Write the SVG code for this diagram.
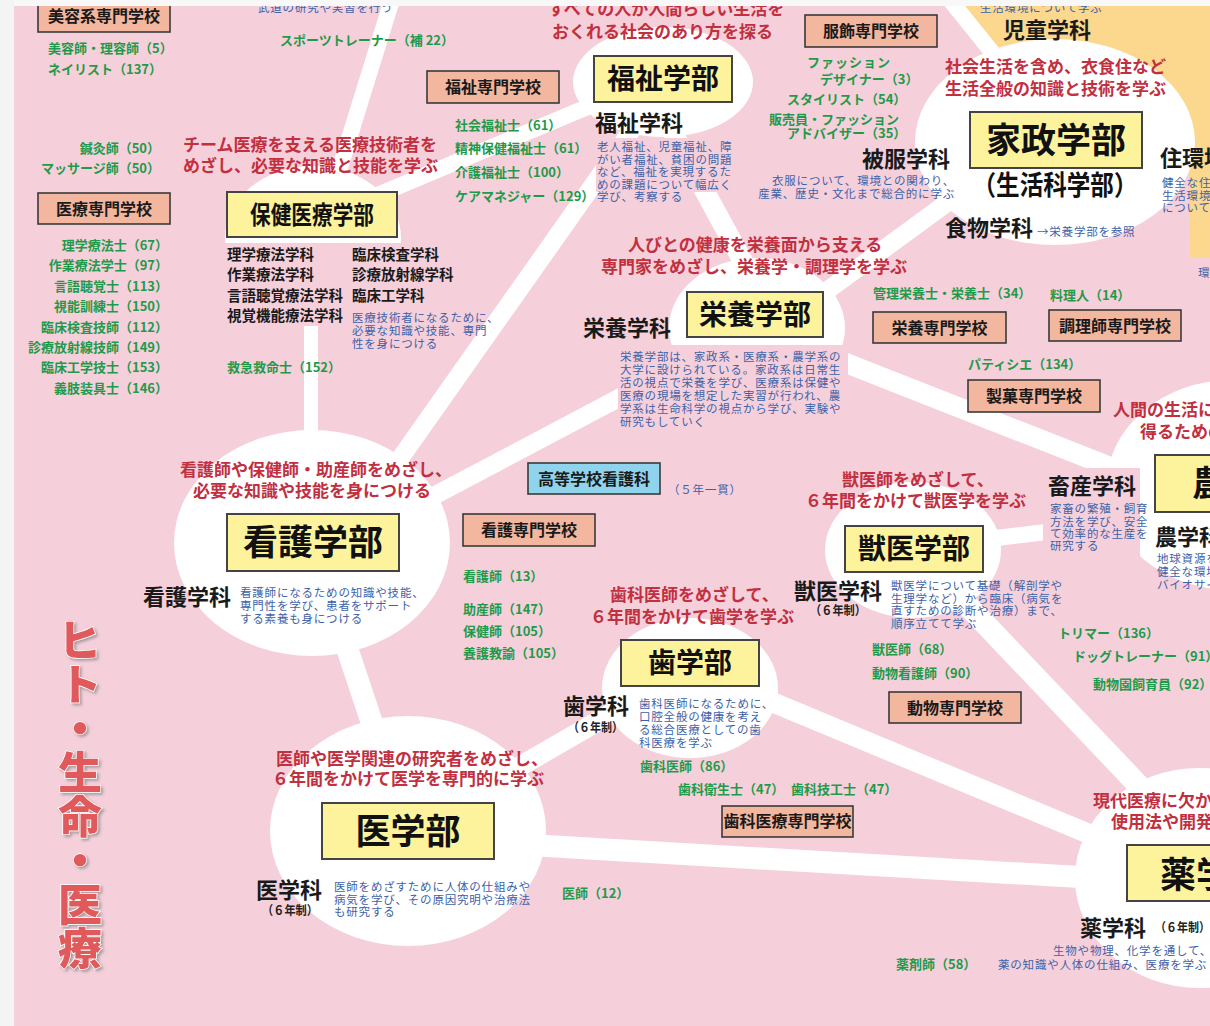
<svg xmlns="http://www.w3.org/2000/svg" width="1210" height="1026" viewBox="0 0 1210 1026">
<defs>
<style>
text{font-family:"Noto Sans CJK JP","Noto Sans",sans-serif}
.r{fill:#c22f3f;font-size:17px;font-weight:700}
.g{fill:#1f9a4a;font-size:13px;font-weight:700}
.b{fill:#3d62a8;font-size:11.5px;letter-spacing:0.8px}
.k{fill:#1a1a1a;font-size:22px;font-weight:700}
.y6{fill:#222;font-size:12.5px;font-weight:700}
.sb{fill:#f3b69e;stroke:#3a3a3a;stroke-width:1.6}
.yb{fill:#fdf39d;stroke:#444;stroke-width:2}
.lb{fill:#1a1a1a;font-size:16px;font-weight:700;text-anchor:middle}
.fac{fill:#111;font-weight:700;text-anchor:middle}
.ln{stroke:#fff;fill:none}
.wc{fill:#fff}
.pk{fill:#f5d0db}
.vt{fill:#e05a5c;font-size:44px;font-weight:900;stroke:#fff;stroke-width:1.5;paint-order:stroke;writing-mode:vertical-rl}
</style>
<filter id="sh" x="-20%" y="-20%" width="150%" height="150%">
<feDropShadow dx="2" dy="2" stdDeviation="1.5" flood-color="#777" flood-opacity="0.6"/>
</filter>
</defs>

<rect x="0" y="0" width="1210" height="1026" fill="#f4f4f4"/>
<rect x="14" y="6" width="1196" height="1020" class="pk"/>
<path d="M963,6 L1210,6 L1210,258 L1190,258 L1188,110 L1000,60 Z" fill="#fcd78e"/>

<g id="connectors">
<line class="ln" x1="392" y1="0" x2="330" y2="200" stroke-width="16"/>
<line class="ln" x1="330" y1="215" x2="640" y2="85" stroke-width="16"/>
<line class="ln" x1="311" y1="240" x2="311" y2="480" stroke-width="14"/>
<line class="ln" x1="653" y1="100" x2="392" y2="470" stroke-width="18"/>
<line class="ln" x1="655" y1="100" x2="775" y2="320" stroke-width="20"/>
<line class="ln" x1="320" y1="556" x2="757" y2="325" stroke-width="18"/>
<line class="ln" x1="1000" y1="164" x2="757" y2="342" stroke-width="18"/>
<line class="ln" x1="950" y1="0" x2="1055" y2="130" stroke-width="16"/>
<line class="ln" x1="757" y1="328" x2="1230" y2="514" stroke-width="20"/>
<line class="ln" x1="913" y1="548" x2="1230" y2="510" stroke-width="16"/>
<line class="ln" x1="913" y1="548" x2="1200" y2="850" stroke-width="22"/>
<line class="ln" x1="312" y1="543" x2="408" y2="831" stroke-width="22"/>
<line class="ln" x1="408" y1="831" x2="690" y2="668" stroke-width="20"/>
<line class="ln" x1="408" y1="838" x2="1200" y2="884" stroke-width="22"/>
<line class="ln" x1="690" y1="668" x2="1200" y2="880" stroke-width="20"/>
</g>

<g id="circles">
<ellipse class="wc" cx="313" cy="238" rx="88" ry="72"/>
<ellipse class="wc" cx="663" cy="82" rx="90" ry="55"/>
<ellipse class="wc" cx="1055" cy="142" rx="140" ry="103"/>
<ellipse class="wc" cx="757" cy="328" rx="88" ry="70"/>
<ellipse class="wc" cx="312" cy="543" rx="138" ry="113"/>
<ellipse class="wc" cx="408" cy="831" rx="138" ry="115"/>
<ellipse class="wc" cx="690" cy="688" rx="88" ry="70"/>
<ellipse class="wc" cx="913" cy="550" rx="88" ry="68"/>
<ellipse class="wc" cx="1232" cy="485" rx="125" ry="105"/>
<ellipse class="wc" cx="1200" cy="878" rx="125" ry="110"/>
</g>

<g id="text-backs">
<rect class="pk" x="222" y="243" width="128" height="83"/>
<rect class="pk" x="350" y="243" width="115" height="60"/>
<rect class="pk" x="596" y="138" width="140" height="54"/>
<rect class="pk" x="618" y="345" width="230" height="85"/>
<rect class="pk" x="1043" y="468" width="97" height="88"/>
</g>

<g id="n-top">
<text class="b" x="258" y="12">武道の研究や実習を行う</text>
<text class="g" x="280" y="44.5">スポーツトレーナー（補 22）</text>
<text class="r" x="548" y="15">すべての人が人間らしい生活を</text>
<text class="r" x="552" y="37.5">おくれる社会のあり方を探る</text>
<text class="b" x="980" y="12">生活環境について学ぶ</text>
</g>

<g id="n-biyou">
<rect class="sb" x="38" y="-4" width="132" height="36"/>
<text class="lb" x="104" y="22">美容系専門学校</text>
<text class="g" x="48" y="53">美容師・理容師（5）</text>
<text class="g" x="48" y="74">ネイリスト（137）</text>
<text class="g" x="160" y="153" text-anchor="end">鍼灸師（50）</text>
<text class="g" x="160" y="173" text-anchor="end">マッサージ師（50）</text>
</g>

<g id="n-iryou-senmon">
<rect class="sb" x="38" y="193" width="132" height="31"/>
<text class="lb" x="104" y="215">医療専門学校</text>
<g class="g" text-anchor="end">
<text x="168" y="250">理学療法士（67）</text>
<text x="168" y="270">作業療法学士（97）</text>
<text x="168" y="290.5">言語聴覚士（113）</text>
<text x="168" y="310.5">視能訓練士（150）</text>
<text x="168" y="331.5">臨床検査技師（112）</text>
<text x="168" y="351.5">診療放射線技師（149）</text>
<text x="168" y="371.5">臨床工学技士（153）</text>
<text x="168" y="392.5">義肢装具士（146）</text>
</g>
</g>

<g id="n-hoken">
<text class="r" x="183" y="151">チーム医療を支える医療技術者を</text>
<text class="r" x="183" y="172">めざし、必要な知識と技能を学ぶ</text>
<rect class="yb" x="227" y="192" width="170" height="45"/>
<text class="fac" x="312" y="223.5" font-size="25" textLength="124" lengthAdjust="spacingAndGlyphs">保健医療学部</text>
<g fill="#1a1a1a" font-size="14.5" font-weight="700">
<text x="227" y="260">理学療法学科</text>
<text x="227" y="280">作業療法学科</text>
<text x="227" y="301">言語聴覚療法学科</text>
<text x="227" y="321">視覚機能療法学科</text>
<text x="352" y="260">臨床検査学科</text>
<text x="352" y="280">診療放射線学科</text>
<text x="352" y="301">臨床工学科</text>
</g>
<text class="b" x="352" y="322">医療技術者になるために、</text>
<text class="b" x="352" y="335">必要な知識や技能、専門</text>
<text class="b" x="352" y="348">性を身につける</text>
<text class="g" x="227" y="371.5">救急救命士（152）</text>
</g>

<g id="n-fukushi">
<rect class="sb" x="427" y="71" width="132" height="32"/>
<text class="lb" x="493" y="93">福祉専門学校</text>
<rect class="yb" x="594" y="56" width="138" height="46"/>
<text class="fac" x="663" y="89" font-size="28">福祉学部</text>
<text class="k" x="595" y="130.5">福祉学科</text>
<text class="b" x="597" y="151">老人福祉、児童福祉、障</text>
<text class="b" x="597" y="163.5">がい者福祉、貧困の問題</text>
<text class="b" x="597" y="176">など、福祉を実現するた</text>
<text class="b" x="597" y="189">めの課題について幅広く</text>
<text class="b" x="597" y="201">学び、考察する</text>
<text class="g" x="455" y="130">社会福祉士（61）</text>
<text class="g" x="455" y="153">精神保健福祉士（61）</text>
<text class="g" x="455" y="176.5">介護福祉士（100）</text>
<text class="g" x="455" y="200.5">ケアマネジャー（129）</text>
</g>

<g id="n-kasei">
<rect class="sb" x="805" y="15" width="132" height="32"/>
<text class="lb" x="871" y="37">服飾専門学校</text>
<text class="g" x="807" y="66.5" letter-spacing="1">ファッション</text>
<text class="g" x="820" y="83.5">デザイナー（3）</text>
<text class="g" x="787" y="103.5">スタイリスト（54）</text>
<text class="g" x="769" y="124">販売員・ファッション</text>
<text class="g" x="787" y="138">アドバイザー（35）</text>
<text class="k" x="862" y="167">被服学科</text>
<text class="b" x="955" y="185" text-anchor="end">衣服について、環境との関わり、</text>
<text class="b" x="955" y="198" text-anchor="end">産業、歴史・文化まで総合的に学ぶ</text>
<text class="k" x="1003" y="38">児童学科</text>
<text class="r" x="945" y="72.5">社会生活を含め、衣食住など</text>
<text class="r" x="945" y="94.5">生活全般の知識と技術を学ぶ</text>
<rect class="yb" x="970" y="112" width="172" height="56"/>
<text class="fac" x="1056" y="152.5" font-size="35">家政学部</text>
<text class="fac" x="1055" y="194.5" font-size="27" textLength="165" lengthAdjust="spacingAndGlyphs">（生活科学部）</text>
<text class="k" x="945" y="235.5">食物学科</text>
<text class="b" x="1037" y="236" font-size="11">→栄養学部を参照</text>
<text class="k" x="1160" y="165.5">住環境学科</text>
<text class="b" x="1162" y="187">健全な住</text>
<text class="b" x="1162" y="199.5">生活環境</text>
<text class="b" x="1162" y="212">について</text>
<text class="b" x="1198" y="277">環</text>
</g>

<g id="n-eiyou">
<text class="r" x="628" y="251">人びとの健康を栄養面から支える</text>
<text class="r" x="601" y="273">専門家をめざし、栄養学・調理学を学ぶ</text>
<rect class="yb" x="687" y="292" width="136" height="45"/>
<text class="fac" x="755" y="324.5" font-size="28">栄養学部</text>
<text class="k" x="583" y="336">栄養学科</text>
<text class="b" x="620" y="361">栄養学部は、家政系・医療系・農学系の</text>
<text class="b" x="620" y="374">大学に設けられている。家政系は日常生</text>
<text class="b" x="620" y="387">活の視点で栄養を学び、医療系は保健や</text>
<text class="b" x="620" y="400">医療の現場を想定した実習が行われ、農</text>
<text class="b" x="620" y="413">学系は生命科学の視点から学び、実験や</text>
<text class="b" x="620" y="426">研究もしていく</text>
<text class="g" x="873" y="298">管理栄養士・栄養士（34）</text>
<text class="g" x="1050" y="299.5">料理人（14）</text>
<rect class="sb" x="873" y="312" width="133" height="31"/>
<text class="lb" x="939.5" y="333.5">栄養専門学校</text>
<rect class="sb" x="1049" y="310" width="132" height="31"/>
<text class="lb" x="1115" y="331.5">調理師専門学校</text>
<text class="g" x="968" y="368.5">パティシエ（134）</text>
<rect class="sb" x="968" y="380" width="132" height="32"/>
<text class="lb" x="1034" y="402">製菓専門学校</text>
</g>

<g id="n-nou">
<text class="r" x="1113" y="416">人間の生活に</text>
<text class="r" x="1140" y="438">得るための</text>
<rect class="yb" x="1155" y="455" width="70" height="57"/>
<text class="fac" x="1192" y="496" font-size="35" style="text-anchor:start">農</text>
<text class="k" x="1155" y="545">農学科</text>
<text class="b" x="1157" y="563">地球資源を</text>
<text class="b" x="1157" y="576">健全な環境</text>
<text class="b" x="1157" y="589">バイオサイ</text>
<text class="k" x="1048" y="494">畜産学科</text>
<text class="b" x="1050" y="513">家畜の繁殖・飼育</text>
<text class="b" x="1050" y="525.5">方法を学び、安全</text>
<text class="b" x="1050" y="538">て効率的な生産を</text>
<text class="b" x="1050" y="550">研究する</text>
</g>

<g id="n-juui">
<text class="r" x="842" y="485.5">獣医師をめざして、</text>
<text class="r" x="805" y="507">６年間をかけて獣医学を学ぶ</text>
<rect class="yb" x="845" y="526" width="138" height="46"/>
<text class="fac" x="914" y="559" font-size="28">獣医学部</text>
<text class="k" x="794" y="599">獣医学科</text>
<text class="y6" x="810" y="615" textLength="56" lengthAdjust="spacingAndGlyphs">（６年制）</text>
<text class="b" x="891" y="590">獣医学について基礎（解剖学や</text>
<text class="b" x="891" y="602.5">生理学など）から臨床（病気を</text>
<text class="b" x="891" y="615">直すための診断や治療）まで、</text>
<text class="b" x="891" y="628">順序立てて学ぶ</text>
<text class="g" x="872" y="653.5">獣医師（68）</text>
<text class="g" x="872" y="677.5">動物看護師（90）</text>
<text class="g" x="1058" y="638">トリマー（136）</text>
<text class="g" x="1073" y="660.5">ドッグトレーナー（91）</text>
<text class="g" x="1093" y="688.5">動物園飼育員（92）</text>
<rect class="sb" x="889" y="692" width="132" height="31"/>
<text class="lb" x="955" y="713.5">動物専門学校</text>
</g>

<g id="n-kango">
<text class="r" x="180" y="475.5">看護師や保健師・助産師をめざし、</text>
<text class="r" x="193" y="497">必要な知識や技能を身につける</text>
<rect class="yb" x="227" y="514" width="172" height="57"/>
<text class="fac" x="313" y="555" font-size="35">看護学部</text>
<text class="k" x="143" y="605">看護学科</text>
<text class="b" x="240" y="597">看護師になるための知識や技能、</text>
<text class="b" x="240" y="610">専門性を学び、患者をサポート</text>
<text class="b" x="240" y="623">する素養も身につける</text>
<rect x="528" y="463" width="132" height="31" fill="#8fd4ec" stroke="#3a3a3a" stroke-width="1.6"/>
<text class="lb" x="594" y="484.5">高等学校看護科</text>
<text class="b" x="668" y="494" font-size="11">（５年一貫）</text>
<rect class="sb" x="463" y="514" width="132" height="32"/>
<text class="lb" x="529" y="536">看護専門学校</text>
<text class="g" x="463" y="580.5">看護師（13）</text>
<text class="g" x="463" y="613.5">助産師（147）</text>
<text class="g" x="463" y="635.5">保健師（105）</text>
<text class="g" x="463" y="657.5">養護教諭（105）</text>
</g>

<g id="n-shigaku">
<text class="r" x="610" y="601">歯科医師をめざして、</text>
<text class="r" x="590" y="623">６年間をかけて歯学を学ぶ</text>
<rect class="yb" x="621" y="640" width="138" height="46"/>
<text class="fac" x="690" y="673" font-size="28">歯学部</text>
<text class="k" x="563" y="714">歯学科</text>
<text class="y6" x="568" y="732" textLength="55" lengthAdjust="spacingAndGlyphs">（６年制）</text>
<text class="b" x="639" y="708">歯科医師になるために、</text>
<text class="b" x="639" y="721">口腔全般の健康を考え</text>
<text class="b" x="639" y="734">る総合医療としての歯</text>
<text class="b" x="639" y="747">科医療を学ぶ</text>
<text class="g" x="640" y="770.5">歯科医師（86）</text>
<text class="g" x="678" y="793.5">歯科衛生士（47）</text>
<text class="g" x="791" y="793.5">歯科技工士（47）</text>
<rect class="sb" x="722" y="806" width="131" height="31"/>
<text class="lb" x="787.5" y="827" font-size="15">歯科医療専門学校</text>
</g>

<g id="n-igaku">
<text class="r" x="276" y="764.5">医師や医学関連の研究者をめざし、</text>
<text class="r" x="272" y="785">６年間をかけて医学を専門的に学ぶ</text>
<rect class="yb" x="322" y="803" width="172" height="56"/>
<text class="fac" x="408" y="843.5" font-size="35">医学部</text>
<text class="k" x="256" y="898">医学科</text>
<text class="y6" x="262" y="915" textLength="56" lengthAdjust="spacingAndGlyphs">（６年制）</text>
<text class="b" x="334" y="891">医師をめざすために人体の仕組みや</text>
<text class="b" x="334" y="904">病気を学び、その原因究明や治療法</text>
<text class="b" x="334" y="916">も研究する</text>
<text class="g" x="562" y="897.5">医師（12）</text>
</g>

<g id="n-yakugaku">
<text class="r" x="1093" y="806.5">現代医療に欠か</text>
<text class="r" x="1111" y="828">使用法や開発</text>
<rect class="yb" x="1127" y="845" width="100" height="56"/>
<text class="fac" x="1160" y="888" font-size="36" style="text-anchor:start">薬学</text>
<text class="k" x="1080" y="936">薬学科</text>
<text class="y6" x="1155" y="932" textLength="55" lengthAdjust="spacingAndGlyphs">（６年制）</text>
<text class="b" x="1053" y="955">生物や物理、化学を通して、</text>
<text class="b" x="998" y="969">薬の知識や人体の仕組み、医療を学ぶ</text>
<text class="g" x="896" y="968.5">薬剤師（58）</text>
</g>

<g id="title-vertical" filter="url(#sh)">
<text class="vt" x="80" y="618">ヒト・生命・医療</text>
</g>

<rect x="0" y="0" width="1210" height="6" fill="#f8f8f8"/>
<rect x="0" y="0" width="14" height="1026" fill="#f4f4f4"/>
</svg>
